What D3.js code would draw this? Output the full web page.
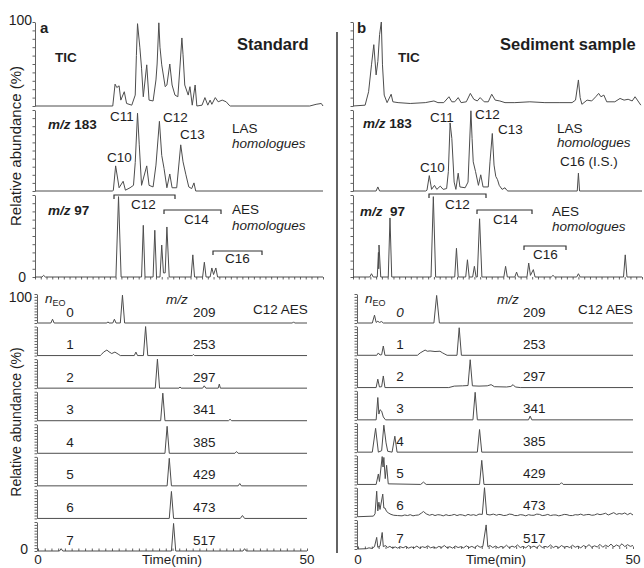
<!DOCTYPE html>
<html>
<head>
<meta charset="utf-8">
<script src="https://cdn.jsdelivr.net/npm/d3@7"></script>
<style>
  body { margin: 0; background: #ffffff; }
  text { font-family: "Liberation Sans", Arial, sans-serif; fill: #1e1e1e; }
</style>
</head>
<body>
<script>
// ---- Data: [time (min), relative abundance (%)] ----
// a) Standard
const stdTIC = [[0,0],[13.5,0],[13.9,26],[14.2,22],[14.6,24],[14.9,7],[15.5,17],[15.9,3],[16.8,1],[17.4,13],[17.6,60],[17.8,98],[18.2,70],[18.5,45],[18.8,11],[19.4,49],[19.8,7],[20.5,6],[21.0,31],[21.2,50],[21.5,99],[21.7,70],[22.0,49],[22.6,23],[22.9,25],[23.4,50],[23.8,25],[24.3,13],[24.8,11],[25.2,50],[25.5,81],[25.7,61],[26.0,25],[26.6,13],[26.9,23],[27.3,1],[27.8,25],[28.1,0],[29.0,1],[29.5,10],[30.0,1],[30.4,7],[30.7,2],[31.3,10],[31.8,5],[32.5,7],[33.2,5],[33.7,1],[33.9,0],[47.7,0],[48.8,2],[49.7,3],[50,0]];
const stdLAS183 = [[0,0],[13.5,0],[13.6,1],[14.0,31],[14.6,4],[15.3,12],[15.7,1],[16.5,4],[17.1,7],[17.4,35],[17.8,96],[18.1,57],[18.5,7],[19.4,31],[19.8,7],[20.5,5],[21.0,32],[21.6,86],[22.0,44],[22.4,28],[22.9,4],[23.4,21],[23.8,4],[24.6,4],[25.3,57],[25.7,36],[26.2,20],[26.7,5],[27.2,3],[27.6,10],[27.9,0],[50,0]];
const stdAES97 = [[0,0],[1.2,0],[1.5,2],[1.8,0],[14.05,0],[14.5,98],[14.95,0],[18.5,0],[18.8,63],[19.1,0],[20.5,0],[20.8,57],[21.1,0],[21.7,0],[22.0,39],[22.3,5],[22.6,5],[22.9,61],[23.3,0],[27.1,0],[27.4,27],[27.7,0],[29.1,0],[29.4,18],[29.7,0],[30.4,0],[30.7,11],[31.0,3],[31.4,11],[31.7,0],[50,0]];

// b) Sediment sample
const sedTIC = [[0,0],[2.1,1],[2.7,17],[3.2,49],[3.6,73],[4.0,37],[4.3,53],[4.6,85],[4.9,100],[5.1,49],[5.4,13],[5.9,4],[6.6,14],[6.9,5],[7.8,4],[9.9,3],[12.5,4],[14.0,6],[14.7,4],[15.7,4],[16.6,11],[17.1,5],[17.6,5],[18.2,10],[18.7,4],[19.6,5],[20.3,15],[20.9,8],[21.5,6],[22.0,10],[22.7,5],[23.4,5],[24.0,14],[24.6,7],[25.4,6],[26.3,4],[28.0,4],[30.6,5],[33.2,4],[35.8,4],[37.9,4],[38.5,7],[39.0,31],[39.3,10],[39.6,2],[40.5,7],[41.3,6],[42.0,11],[42.5,15],[42.9,11],[43.4,13],[43.9,5],[45.3,5],[46.2,9],[46.9,7],[47.6,8],[48.3,6],[48.8,11],[49.3,6],[49.8,1]];
const sedLAS183 = [[0,0],[4.0,0],[4.3,5],[4.6,0],[12.6,0],[12.8,1],[13.2,19],[13.6,2],[14.1,7],[14.5,2],[15.1,6],[15.6,2],[16.2,3],[16.5,24],[16.8,84],[17.1,65],[17.5,11],[17.8,2],[18.2,22],[18.5,5],[19.4,4],[19.9,11],[20.4,99],[20.6,65],[20.8,36],[21.2,24],[21.7,7],[22.1,20],[22.5,5],[23.4,5],[23.7,36],[24.1,71],[24.4,32],[24.7,18],[25.0,14],[25.3,7],[25.8,2],[26.3,4],[26.6,1],[26.8,0],[38.8,0],[39.0,22],[39.2,0],[50,0]];
const sedAES97 = [[0,0],[2.9,0],[3.2,4],[3.5,0],[4.2,0],[4.4,30],[4.45,10],[4.5,39],[4.8,0],[6.1,0],[6.4,72],[6.7,0],[13.5,0],[13.9,98],[14.3,0],[17.6,0],[17.9,35],[18.2,0],[19.5,0],[19.8,21],[20.1,0],[20.7,0],[21.0,13],[21.3,0],[21.5,0],[21.9,71],[22.3,0],[26.1,0],[26.4,13],[26.7,0],[28.0,0],[28.3,6],[28.6,0],[30.1,0],[30.4,17],[30.7,2],[31.2,9],[31.5,0],[34.3,0],[34.6,2],[34.9,0],[38.7,0],[39.0,4],[39.3,0],[46.8,0],[47.1,27],[47.4,0],[50,0]];

// C12 AES ethoxymers, extracted ion traces
const nEO = [0, 1, 2, 3, 4, 5, 6, 7];
const mzValues = [209, 253, 297, 341, 385, 429, 473, 517];
const stdEO = [
  [[0,0],[2.4,0],[2.7,13],[3.0,0],[12.8,0],[13.0,4],[13.2,0],[13.9,0],[14.2,13],[14.5,0],[15.3,0],[15.7,96],[16.1,0],[47.3,0],[47.5,4],[47.7,0],[50,0]],
  [[0,0],[11.6,0],[11.8,4],[12.2,12],[12.8,19],[13.2,13],[13.7,7],[14.3,12],[14.9,5],[15.3,0],[17.9,0],[18.2,12],[18.5,0],[19.6,0],[20.0,100],[20.4,0],[28.7,0],[28.9,4],[29.1,0],[50,0]],
  [[0,0],[21.8,0],[22.2,100],[22.6,0],[26.2,0],[26.4,4],[26.6,0],[30.6,0],[30.9,8],[31.2,0],[33.5,0],[33.7,14],[33.9,0],[50,0]],
  [[0,0],[22.8,0],[23.2,95],[23.6,0],[35.4,0],[35.7,5],[36.0,0],[50,0]],
  [[0,0],[23.6,0],[24.0,93],[24.4,0],[36.6,0],[36.9,6],[37.2,0],[50,0]],
  [[0,0],[24.0,0],[24.4,95],[24.8,0],[37.2,0],[37.5,8],[37.8,0],[50,0]],
  [[0,0],[24.4,0],[24.8,93],[25.2,0],[37.6,0],[38.0,10],[38.4,0],[50,0]],
  [[0,0],[4.0,0],[4.3,8],[4.6,0],[24.8,0],[25.2,95],[25.6,0],[38.1,0],[38.4,8],[38.7,0],[50,0]]
];
const sedEO = [
  [[0,0],[2.6,0],[3.0,27],[3.3,2],[3.6,6],[3.9,2],[4.3,5],[4.6,0],[13.8,0],[14.3,95],[14.8,0],[50,0]],
  [[0,0],[3.4,0],[3.7,8],[4.0,1],[4.3,2],[4.6,32],[4.9,0],[10.8,0],[11.3,8],[12.2,18],[12.6,14],[13.1,15],[14.0,13],[14.9,14],[15.4,8],[15.8,4],[16.2,0],[18.0,0],[18.4,95],[18.8,0],[50,0]],
  [[0,0],[3.3,0],[3.6,29],[3.9,2],[4.3,3],[4.6,40],[4.9,0],[16.5,0],[17.5,5],[19.0,6],[20.0,7],[20.4,96],[20.8,6],[22.0,5],[23.5,6],[24.2,10],[24.8,3],[27.0,2],[27.8,4],[28.2,10],[28.6,2],[29.5,0],[50,0]],
  [[0,0],[3.3,0],[3.6,77],[3.8,20],[4.0,35],[4.3,30],[4.6,10],[5.0,0],[20.9,0],[21.3,95],[21.7,0],[31.0,0],[31.3,13],[31.6,0],[50,0]],
  [[0,0],[2.6,0],[3.2,82],[3.7,0],[4.3,5],[4.7,93],[5.1,32],[5.4,3],[6.2,0],[6.7,55],[7.1,0],[21.7,0],[22.1,78],[22.5,0],[50,0]],
  [[0,0],[3.3,0],[3.7,36],[3.9,10],[4.4,96],[4.55,60],[4.7,93],[4.95,20],[5.2,66],[5.5,2],[11.4,0],[11.9,8],[12.4,0],[22.1,0],[22.5,83],[22.9,0],[36.7,0],[37.0,6],[37.3,0],[50,0]],
  [[0,0],[2.8,2],[3.1,10],[3.4,88],[3.6,20],[3.8,50],[4.0,25],[4.5,78],[4.7,30],[4.9,30],[5.2,18],[5.6,12],[6.0,8],[6.5,5],[7.2,4],[8.0,3],[8.5,6],[9.0,4],[9.5,7],[10.0,3],[10.5,5],[11.0,6],[11.5,12],[11.9,18],[12.4,10],[13.0,5],[13.5,8],[14.0,4],[14.5,7],[15.0,6],[15.5,3],[16.0,7],[16.5,4],[17.0,5],[17.5,8],[18.0,4],[18.5,7],[19.0,6],[19.5,3],[20.0,8],[20.5,5],[21.0,7],[21.5,4],[22.0,9],[22.6,8],[23.0,100],[23.4,8],[24.0,6],[24.6,9],[25.2,5],[25.6,8],[26.0,7],[26.5,4],[27.0,5],[27.5,9],[28.0,8],[28.5,4],[29.0,4],[29.5,7],[30.0,6],[30.5,3],[31.0,7],[31.5,5],[32.0,5],[32.5,9],[33.0,8],[33.5,4],[34.0,5],[34.5,8],[35.0,4],[35.5,6],[36.0,6],[36.5,3],[37.0,5],[37.5,8],[38.0,7],[38.5,4],[39.0,4],[39.5,7],[40.0,6],[40.5,9],[41.0,5],[41.5,7],[42.0,8],[42.5,5],[43.0,6],[43.5,10],[44.0,7],[44.5,9],[45.0,12],[45.5,6],[46.0,10],[46.5,14],[47.0,8],[47.5,11],[48.0,9],[48.5,13],[49.0,7],[49.5,12],[50,6]],
  [[0,0],[1.5,1],[2.0,4],[2.5,2],[3.0,8],[3.4,40],[3.6,6],[4.0,10],[4.4,57],[4.6,8],[5.0,12],[5.4,5],[5.8,9],[6.2,4],[6.8,7],[7.2,3],[7.7,8],[8.2,4],[8.7,9],[9.2,3],[9.7,7],[10.2,4],[10.7,10],[11.2,3],[11.7,8],[12.2,5],[12.7,11],[13.2,4],[13.7,7],[14.2,3],[14.7,9],[15.2,5],[15.7,12],[16.2,4],[16.7,8],[17.2,3],[17.7,10],[18.2,5],[18.7,8],[19.2,4],[19.7,11],[20.2,5],[20.7,9],[21.2,4],[21.7,12],[22.2,6],[22.7,9],[23.3,83],[23.6,8],[24.0,12],[24.5,5],[25.0,10],[25.5,4],[26.0,9],[26.5,5],[27.0,13],[27.5,4],[28.0,10],[28.5,6],[29.0,14],[29.5,5],[30.0,9],[30.5,4],[31.0,12],[31.5,6],[32.0,10],[32.5,4],[33.0,13],[33.5,5],[34.0,9],[34.5,6],[35.0,14],[35.5,5],[36.0,10],[36.5,4],[37.0,12],[37.5,6],[38.0,9],[38.5,5],[39.0,13],[39.5,6],[40.0,10],[40.5,4],[41.0,12],[41.5,7],[42.0,15],[42.5,6],[43.0,11],[43.5,7],[44.0,16],[44.5,6],[45.0,13],[45.5,8],[46.0,17],[46.5,7],[47.0,14],[47.5,9],[48.0,18],[48.5,8],[49.0,15],[49.5,9],[50,12]]
];

// ---- Layout ----
const W = 644, H = 568;
const lineColor = "#4d4d4d";
const axisColor = "#3a3a3a";

const svg = d3.select("body").append("svg").attr("width", W).attr("height", H);

const xTop = {
  std: d3.scaleLinear().domain([0, 50]).range([35, 323]),
  sed: d3.scaleLinear().domain([0, 50]).range([353, 642])
};
const xBot = {
  std: d3.scaleLinear().domain([0, 50]).range([38, 307]),
  sed: d3.scaleLinear().domain([0, 50]).range([358, 633])
};

// vertical extent (baseline, full scale) of the three stacked top panels
const topRows = [
  { std: stdTIC,    sed: sedTIC,    y0: 106, y1: 22 },
  { std: stdLAS183, sed: sedLAS183, y0: 191, y1: 110 },
  { std: stdAES97,  sed: sedAES97,  y0: 277, y1: 195 }
];

const baseY = {
  std: d3.scaleLinear().domain([0, 7]).range([323, 551]),
  sed: d3.scaleLinear().domain([0, 7]).range([323, 549])
};
const eoHeight = 29;

function drawTrace(data, x, y) {
  svg.append("path")
    .datum(data)
    .attr("fill", "none")
    .attr("stroke", lineColor)
    .attr("stroke-width", 1)
    .attr("stroke-linejoin", "round")
    .attr("d", d3.line().x(d => x(d[0])).y(d => y(d[1])));
}

function drawYAxis(xPos, y) {
  const ax = d3.axisLeft(y).tickValues(d3.range(0, 101, 10)).tickSize(2.5).tickSizeOuter(0).tickFormat("");
  const g = svg.append("g").attr("transform", `translate(${xPos},0)`).call(ax);
  g.selectAll("path,line").attr("stroke", axisColor).attr("stroke-width", 0.8);
}

function drawXTicks(x, yPos, dir, step) {
  const ax = (dir === "down" ? d3.axisBottom(x) : d3.axisTop(x))
    .tickValues(d3.range(0, 50.001, step)).tickSize(2.5).tickSizeOuter(0).tickFormat("");
  const g = svg.append("g").attr("transform", `translate(0,${yPos})`).call(ax);
  g.select(".domain").remove();
  g.selectAll("line").attr("stroke", axisColor).attr("stroke-width", 0.8);
}

function txt(x, y, s, opts = {}) {
  const t = svg.append("text").attr("x", x).attr("y", y)
    .attr("font-size", opts.size || 13.5)
    .attr("font-weight", opts.bold ? "bold" : null)
    .attr("font-style", opts.italic ? "italic" : null)
    .attr("text-anchor", opts.anchor || "start")
    .text(s);
  return t;
}

function mzLabel(x, y, value) {
  const t = svg.append("text").attr("x", x).attr("y", y).attr("font-size", 13.5).attr("font-weight", "bold");
  t.append("tspan").attr("font-style", "italic").text("m/z");
  t.append("tspan").text("\u00a0" + value);
}

function bracket(x0, x1, y) {
  svg.append("path")
    .attr("d", `M${x0},${y + 4}V${y}H${x1}V${y + 4}`)
    .attr("fill", "none").attr("stroke", "#333").attr("stroke-width", 1.2);
}

// ---- Top panels ----
["std", "sed"].forEach(side => {
  const x = xTop[side];
  topRows.forEach(row => {
    const y = d3.scaleLinear().domain([0, 100]).range([row.y0, row.y1]);
    drawYAxis(x.range()[0], y);
    drawTrace(row[side], x, y);
  });
  drawXTicks(x, topRows[2].y0, "down", 1);
});

// ---- Bottom panels ----
["std", "sed"].forEach(side => {
  const x = xBot[side];
  const rows = side === "std" ? stdEO : sedEO;
  nEO.forEach((n, i) => {
    const b = baseY[side](i);
    const y = d3.scaleLinear().domain([0, 100]).range([b, b - eoHeight]);
    drawYAxis(x.range()[0] - 1, y);
    drawTrace(rows[i], x, y);
  });
  drawXTicks(x, baseY[side](7), "up", 1.25);
});

// separator between the two halves
svg.append("line").attr("x1", 337).attr("x2", 337).attr("y1", 32).attr("y2", 553)
  .attr("stroke", "#222").attr("stroke-width", 1.4);

// ---- Top labels: standard ----
txt(32, 25, "100", { anchor: "end", size: 14 });
txt(26, 282, "0", { anchor: "end", size: 14 });
txt(40, 33, "a", { bold: true, size: 15 });
txt(237, 50, "Standard", { bold: true, size: 16.5 });
txt(55, 62, "TIC", { bold: true });
mzLabel(48, 129, "183");
txt(110, 121, "C11");
txt(163, 122, "C12");
txt(180, 139, "C13");
txt(107, 162, "C10");
txt(232, 133, "LAS");
txt(232, 148, "homologues", { italic: true });
mzLabel(48, 215, "97");
bracket(114, 175, 195);
txt(131, 209, "C12");
bracket(164, 221, 210);
txt(184, 224, "C14");
txt(232, 214, "AES");
txt(232, 230, "homologues", { italic: true });
bracket(213, 262, 251);
txt(225, 263, "C16");

// ---- Top labels: sediment ----
txt(357, 33, "b", { bold: true, size: 15 });
txt(500, 50, "Sediment sample", { bold: true, size: 16.5 });
txt(398, 62, "TIC", { bold: true });
mzLabel(363, 128, "183");
txt(430, 122, "C11");
txt(475, 119, "C12");
txt(498, 134, "C13");
txt(420, 172, "C10");
txt(557, 133, "LAS");
txt(557, 147, "homologues", { italic: true });
txt(560, 166, "C16 (I.S.)");
mzLabel(360, 216, "\u00a097");
bracket(429, 486, 194);
txt(445, 209, "C12");
bracket(477, 532, 210);
txt(493, 224, "C14");
txt(552, 216, "AES");
txt(552, 231, "homologues", { italic: true });
bracket(524, 566, 246);
txt(533, 259, "C16");

// ---- Bottom labels ----
txt(32, 302, "100", { anchor: "end", size: 14 });
txt(28, 554, "0", { anchor: "end", size: 14 });

function eoHeader(xn, xmz, xc12, y) {
  const t = svg.append("text").attr("x", xn).attr("y", y).attr("font-size", 13.5);
  t.append("tspan").attr("font-style", "italic").text("n");
  t.append("tspan").attr("font-size", 9).attr("dy", 3).text("EO");
  txt(xmz, y + 1, "m/z", { italic: true });
  txt(xc12, y + 11, "C12 AES");
}
eoHeader(45, 166, 253, 303);
eoHeader(365, 497, 578, 303);

nEO.forEach((n, i) => {
  const bl = baseY.std(i) - 6.5;
  const br = baseY.sed(i) - 6.5;
  txt(70, bl, String(n), { anchor: "middle" });
  txt(193, bl, String(mzValues[i]));
  txt(400, br, String(n), { anchor: "middle", italic: i === 0 });
  txt(523, br, String(mzValues[i]));
});

// time axis labels
[["std", 172], ["sed", 496]].forEach(([side, cx]) => {
  const x = xBot[side];
  txt(x(0), 564, "0", { anchor: "middle", size: 13.5 });
  txt(x(50), 564, "50", { anchor: "middle", size: 13.5 });
  txt(cx, 564, "Time(min)", { anchor: "middle", size: 13.5 });
});

// y-axis titles
svg.append("text").attr("transform", "translate(21,146) rotate(-90)")
  .attr("text-anchor", "middle").attr("font-size", 15).text("Relative abundance (%)");
svg.append("text").attr("transform", "translate(21,422) rotate(-90)")
  .attr("text-anchor", "middle").attr("font-size", 14).text("Relative abundance (%)");
</script>
</body>
</html>
